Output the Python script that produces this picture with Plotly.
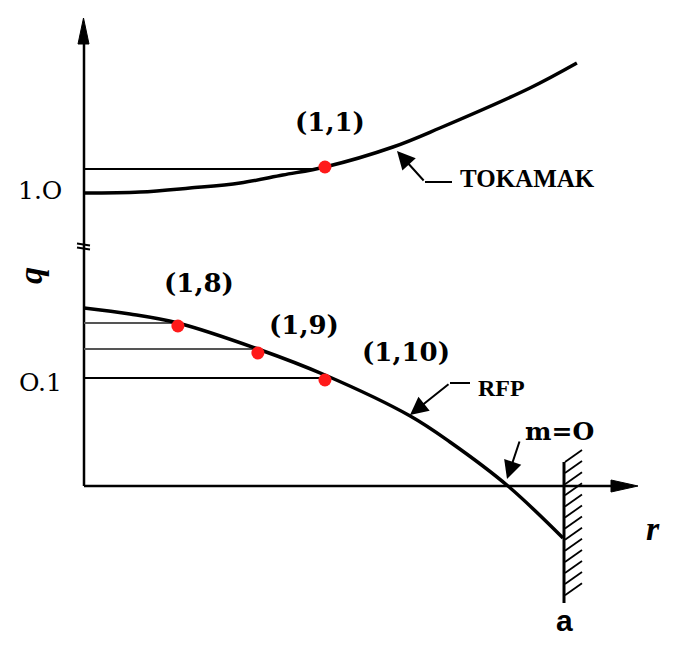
import plotly.graph_objects as go
import numpy as np

# ---------------- data (schematic q-profiles) ----------------
# r is normalised to the wall radius a (a = 1); q is on a schematic, broken vertical scale
r_tokamak = [0.0, 0.117, 0.221, 0.326, 0.415, 0.503, 0.645, 0.743, 0.931, 1.029]
q_tokamak = [2.93, 2.94, 2.98, 3.03, 3.11, 3.19, 3.39, 3.58, 3.98, 4.23]

r_rfp = [0.0, 0.096, 0.196, 0.363, 0.503, 0.681, 0.764, 0.885, 1.0]
q_rfp = [1.78, 1.72, 1.63, 1.37, 1.11, 0.70, 0.44, 0.0, -0.52]

# resonant surfaces (m,n)
res_labels = ["(1,1)", "(1,8)", "(1,9)", "(1,10)"]
res_r = [0.503, 0.196, 0.363, 0.503]
res_q = [3.19, 1.60, 1.33, 1.06]
res_level_q = [3.17, 1.63, 1.37, 1.08]

tick_labels = ["1.O", "O.1"]
tick_q = [2.96, 1.04]

# ---------------- layout helpers (pixel -> data, for decorations) ----------------
def X(px):
    return (px - 84) / 479.0

def Y(py):
    return (486 - py) / 100.0

OFF = 8  # page margin of the browser body

fig = go.Figure()

def seg(xs, ys, width=2, color="black"):
    fig.add_trace(go.Scatter(x=xs, y=ys, mode="lines", line=dict(color=color, width=width),
                             hoverinfo="skip", showlegend=False))

def tri(pts, color="black"):
    xs = [X(p[0]) for p in pts] + [X(pts[0][0])]
    ys = [Y(p[1]) for p in pts] + [Y(pts[0][1])]
    fig.add_trace(go.Scatter(x=xs, y=ys, mode="lines", fill="toself", fillcolor=color,
                             line=dict(color=color, width=1), hoverinfo="skip", showlegend=False))

# axes
seg([0, 0], [0, Y(40)], width=2.5)
tri([(83.5, 18), (78, 44), (89, 44)])
seg([0, X(614)], [0, 0], width=2.5)
tri([(638, 486), (611, 480), (611, 492)])
# axis break mark
seg([X(77), X(90)], [Y(243.5), Y(245.5)], width=2)
seg([X(77), X(90)], [Y(247.5), Y(249.5)], width=2)

# horizontal level lines to resonant surfaces
level_colors = ["black", "#555555", "#555555", "black"]
for rr, qq, c in zip(res_r, res_level_q, level_colors):
    seg([0, rr], [qq, qq], width=2, color=c)

# profiles
fig.add_trace(go.Scatter(x=r_tokamak, y=q_tokamak, mode="lines",
                         line=dict(color="black", width=3.5, shape="spline", smoothing=1.0),
                         hoverinfo="skip", showlegend=False))
fig.add_trace(go.Scatter(x=r_rfp, y=q_rfp, mode="lines",
                         line=dict(color="black", width=3.5, shape="spline", smoothing=1.0),
                         hoverinfo="skip", showlegend=False))

# wall at r = a with hatching
seg([X(564), X(564)], [Y(462), Y(603)], width=3)
for k in range(13):
    yl = 462 + k * 11.1
    seg([X(565), X(582)], [Y(yl), Y(yl - 12)], width=1.8)

# resonant points
fig.add_trace(go.Scatter(x=res_r, y=res_q, mode="markers", marker=dict(color="#ff1a1a", size=13),
                         hoverinfo="skip", showlegend=False))

# leader lines for labels
seg([X(452), X(425)], [Y(182), Y(182)], width=2)
seg([X(470), X(450)], [Y(383), Y(383)], width=2)

ann = []
def arrow(tip, start):
    ann.append(dict(x=X(tip[0]), y=Y(tip[1]), ax=X(start[0]), ay=Y(start[1]), xref="x", yref="y",
                    axref="x", ayref="y", text="", showarrow=True, arrowhead=2, arrowsize=1.8,
                    arrowwidth=2, arrowcolor="black", standoff=0))

arrow((397, 151), (425, 182))
arrow((410, 415), (450, 383))
arrow((507, 479), (520, 440))

def text(t, px, py, size, family="DejaVu Serif", bold=True, angle=0):
    ann.append(dict(x=X(px), y=Y(py), xref="x", yref="y", text=("<b>%s</b>" % t) if bold else t,
                    showarrow=False, textangle=angle,
                    font=dict(family=family, size=size, color="black")))

# resonance labels
label_px = [(330, 122), (199, 283), (304, 325), (406, 352)]
for lab, (px, py) in zip(res_labels, label_px):
    text(lab, px, py, 26)

# tick labels
for lab, qq in zip(tick_labels, tick_q):
    ann.append(dict(x=X(40), y=qq, xref="x", yref="y", text=lab, showarrow=False,
                    font=dict(family="DejaVu Serif", size=25, color="black")))

text("TOKAMAK", 527, 178, 25, family="Liberation Serif")
text("RFP", 501, 388, 24, family="Liberation Serif")
text("m=O", 559, 431, 25)
text("a", 564, 620, 30, family="Liberation Sans")
text("<i>r</i>", 653, 528, 34, family="Liberation Serif")
text("<i>q</i>", 30, 276, 34, family="Liberation Serif", angle=-90)

fig.update_layout(
    width=685 - OFF, height=654 - OFF,
    margin=dict(l=0, r=0, t=0, b=0),
    paper_bgcolor="white", plot_bgcolor="white",
    xaxis=dict(range=[X(OFF), X(685)], visible=False, fixedrange=True),
    yaxis=dict(range=[Y(654), Y(OFF)], visible=False, fixedrange=True),
    annotations=ann,
    showlegend=False,
)

fig.write_html("out.html")
